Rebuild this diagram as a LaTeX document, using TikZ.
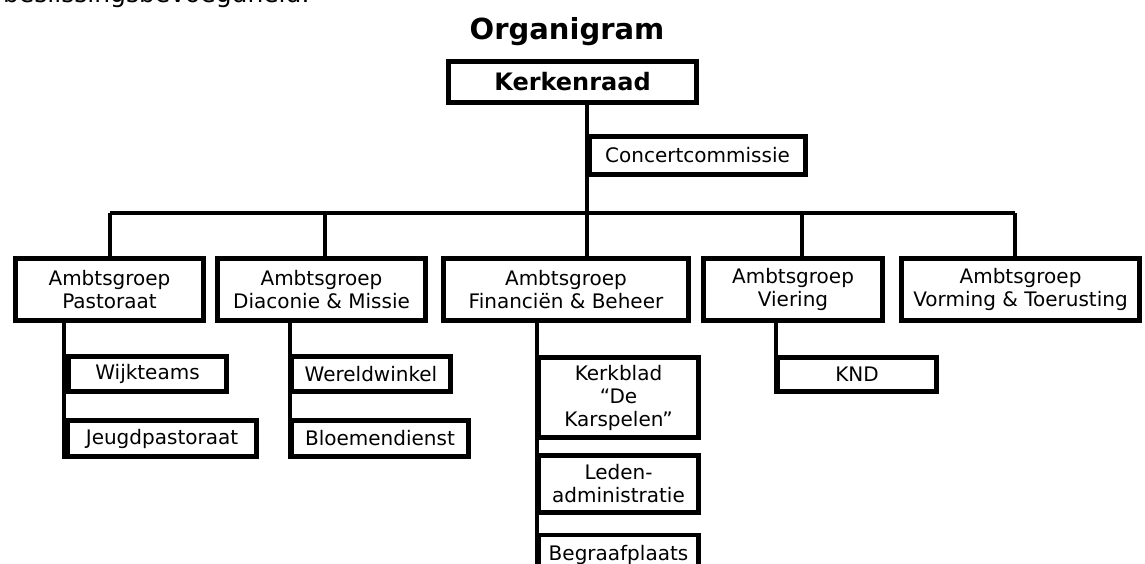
\documentclass[tikz,border=0pt]{standalone}
\usepackage{fontspec}
\setmainfont{DejaVu Sans}
\usetikzlibrary{positioning}
\usetikzlibrary{calc}

\begin{document}
\begin{tikzpicture}[x=1pt, y=-1pt,
        box/.style={draw, line width=4.2, inner sep=0, align=center, font=\fontsize{20}{23}\selectfont},
        group/.style={box, minimum height=62},
        sub/.style={box, minimum width=158, minimum height=35},
        link/.style={line width=3.2}]
        \useasboundingbox (0,0) rectangle (1145,564);

        % nodes %
        \node[font=\fontsize{25}{29}\selectfont, anchor=base east] (fragment) at (313,2.5) {beslissingsbevoegdheid.};
        \node[font=\bfseries\fontsize{29}{32}\selectfont, anchor=base] (title) at (567,40) {Organigram};
        \node[box, minimum width=248, minimum height=41, font=\bfseries\fontsize{24}{28}\selectfont] (kr) at (572.5,82) {Kerkenraad};
        \node[box, minimum width=216, minimum height=38] (concert) at (697.5,155.5) {Concertcommissie};

        \node[group, minimum width=188] (past) at (109.5,289.5) {Ambtsgroep\\Pastoraat};
        \node[group, minimum width=208] (diac) at (321.5,289.5) {Ambtsgroep\\Diaconie \& Missie};
        \node[group, minimum width=245] (fin) at (566,289.5) {Ambtsgroep\\Financiën \& Beheer};
        \node[group, minimum width=179] (vier) at (793,289.5) {Ambtsgroep\\Viering};
        \node[group, minimum width=238] (vorm) at (1020.5,289.5) {Ambtsgroep\\Vorming \& Toerusting};

        \node[sub] (wijk) at (147.5,374) {Wijkteams};
        \node[sub, minimum width=189, minimum height=36] (jeugd) at (162,438.5) {Jeugdpastoraat};
        \node[sub, minimum width=159] (wereld) at (371,374) {Wereldwinkel};
        \node[sub, minimum width=177, minimum height=36] (bloem) at (380,438.5) {Bloemendienst};
        \node[sub, minimum width=160, minimum height=80] (kerkblad) at (618.5,397.5) {Kerkblad\\“De\\Karspelen”};
        \node[sub, minimum width=160, minimum height=57] (leden) at (618.5,484) {Leden-\\administratie};
        \node[sub, minimum width=160, minimum height=40] (begr) at (618.5,555) {Begraafplaats};
        \node[sub, minimum width=159, minimum height=34] (knd) at (857,374.5) {KND};

        % edges %
        \coordinate (spine) at (587,0);
        \draw[link] (kr.south -| spine) -- (fin.north -| spine);
        \coordinate (busL) at (110,213);
        \coordinate (busR) at (1015,213);
        \draw[link] (busL) -- (busR);
        \foreach \n/\x in {past/110, diac/325, vier/802, vorm/1015}
            {\coordinate (drop) at (\x,213);
             \draw[link] (drop) -- (\n.north -| drop);}

        \coordinate (l1) at (64,0);
        \coordinate (l2) at (290,0);
        \coordinate (l3) at (537,0);
        \coordinate (l4) at (776,0);
        \draw[link] (past.south -| l1) -- (jeugd.south -| l1);
        \draw[link] (diac.south -| l2) -- (bloem.south -| l2);
        \draw[link] (fin.south -| l3) -- (begr.south -| l3);
        \draw[link] (vier.south -| l4) -- (knd.south -| l4);
\end{tikzpicture}
\end{document}
